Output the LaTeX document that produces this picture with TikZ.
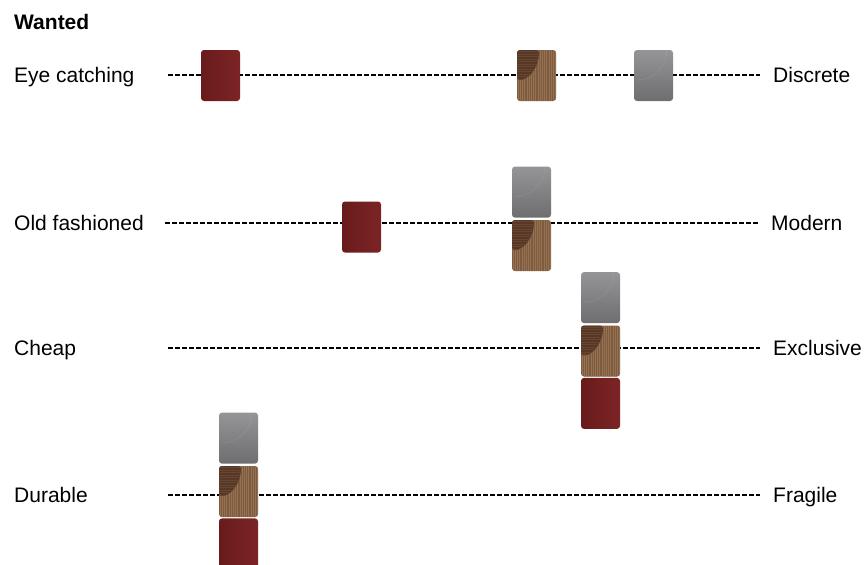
\documentclass[tikz,border=0pt]{standalone}
\usepackage{fontspec}
\setmainfont{Liberation Sans}
\usepackage{xcolor}
\usetikzlibrary{positioning}

\definecolor{reddark}{HTML}{691B1C}
\definecolor{redlight}{HTML}{7C2425}
\definecolor{woodbase}{HTML}{7E5B3E}
\definecolor{woodline}{HTML}{957252}
\definecolor{wooddark}{HTML}{573827}
\definecolor{woodstreak}{HTML}{664630}
\definecolor{greyhi}{HTML}{959597}
\definecolor{greylo}{HTML}{6E6E70}

\begin{document}
\begin{tikzpicture}[
  x=1pt, y=-1pt,
  lbl/.style={anchor=base west, inner sep=0pt, font=\fontsize{21}{25}\selectfont},
  scaleline/.style={dash pattern=on 5pt off 2pt, line width=1.5pt},
  swatch/.style={minimum width=39pt, minimum height=51pt, inner sep=0pt,
    rounded corners=3pt},
  redsw/.style={swatch, left color=reddark, right color=redlight},
  greysw/.style={swatch, top color=greyhi, bottom color=greylo,
    path picture={
      \draw[white, opacity=0.06, line width=1pt]
        ([xshift=-6pt]path picture bounding box.north east)
        arc[start angle=0, end angle=-90, radius=30pt];
    }},
  woodsw/.style={swatch, fill=woodbase,
    path picture={
      \foreach \i in {1,3.2,...,40}
        \draw[woodline, line width=0.6pt]
          ([xshift=\i pt]path picture bounding box.south west) --
          ([xshift=\i pt]path picture bounding box.north west);
      \fill[wooddark] (path picture bounding box.north west) -- ++(22pt,0)
        arc[start angle=0, end angle=-90, x radius=22pt, y radius=30pt] -- cycle;
      \begin{scope}
        \clip (path picture bounding box.north west) -- ++(22pt,0)
          arc[start angle=0, end angle=-90, x radius=22pt, y radius=30pt] -- cycle;
        \foreach \j in {1.5,4,...,30}
          \draw[woodstreak, line width=0.6pt]
            ([yshift=-\j pt]path picture bounding box.north west) --
            ([yshift=-\j pt, xshift=24pt]path picture bounding box.north west);
      \end{scope}
    }},
]
\useasboundingbox (0,0) rectangle (865,565);

% Title
\node[lbl, font=\fontsize{21}{25}\selectfont\bfseries] (wanted) at (14,29) {Wanted};

% Labels
\node[lbl] (eye) at (14,82) {Eye catching};
\node[lbl] (discrete) at (773,82) {Discrete};
\node[lbl] (old) at (14,230) {Old fashioned};
\node[lbl] (modern) at (771,230) {Modern};
\node[lbl] (cheap) at (14,355) {Cheap};
\node[lbl] (exclusive) at (773,355) {Exclusive};
\node[lbl] (durable) at (14,502) {Durable};
\node[lbl] (fragile) at (773,502) {Fragile};

% Scales
\coordinate (s1a) at (168,75);  \coordinate (s1b) at (760,75);
\coordinate (s2a) at (165,223); \coordinate (s2b) at (758,223);
\coordinate (s3a) at (168,348); \coordinate (s3b) at (760,348);
\coordinate (s4a) at (168,495); \coordinate (s4b) at (760,495);
\draw[scaleline] (s1a) -- (s1b);
\draw[scaleline] (s2a) -- (s2b);
\draw[scaleline] (s3a) -- (s3b);
\draw[scaleline] (s4a) -- (s4b);

% Row 1
\node[redsw] (red1) at (220.5,75.5) {};
\node[woodsw] (wood1) at (536.5,75.5) {};
\node[greysw] (grey1) at (653.5,75.5) {};

% Row 2
\node[redsw] (red2) at (361.5,227) {};
\node[woodsw] (wood2) at (531.5,245.5) {};
\node[greysw, above=2pt of wood2] (grey2) {};

% Row 3
\node[woodsw] (wood3) at (600.5,351) {};
\node[greysw, above=2pt of wood3] (grey3) {};
\node[redsw, below=1pt of wood3] (red3) {};

% Row 4
\node[woodsw] (wood4) at (238.5,491.5) {};
\node[greysw, above=2pt of wood4] (grey4) {};
\node[redsw, below=1pt of wood4] (red4) {};

\end{tikzpicture}
\end{document}
